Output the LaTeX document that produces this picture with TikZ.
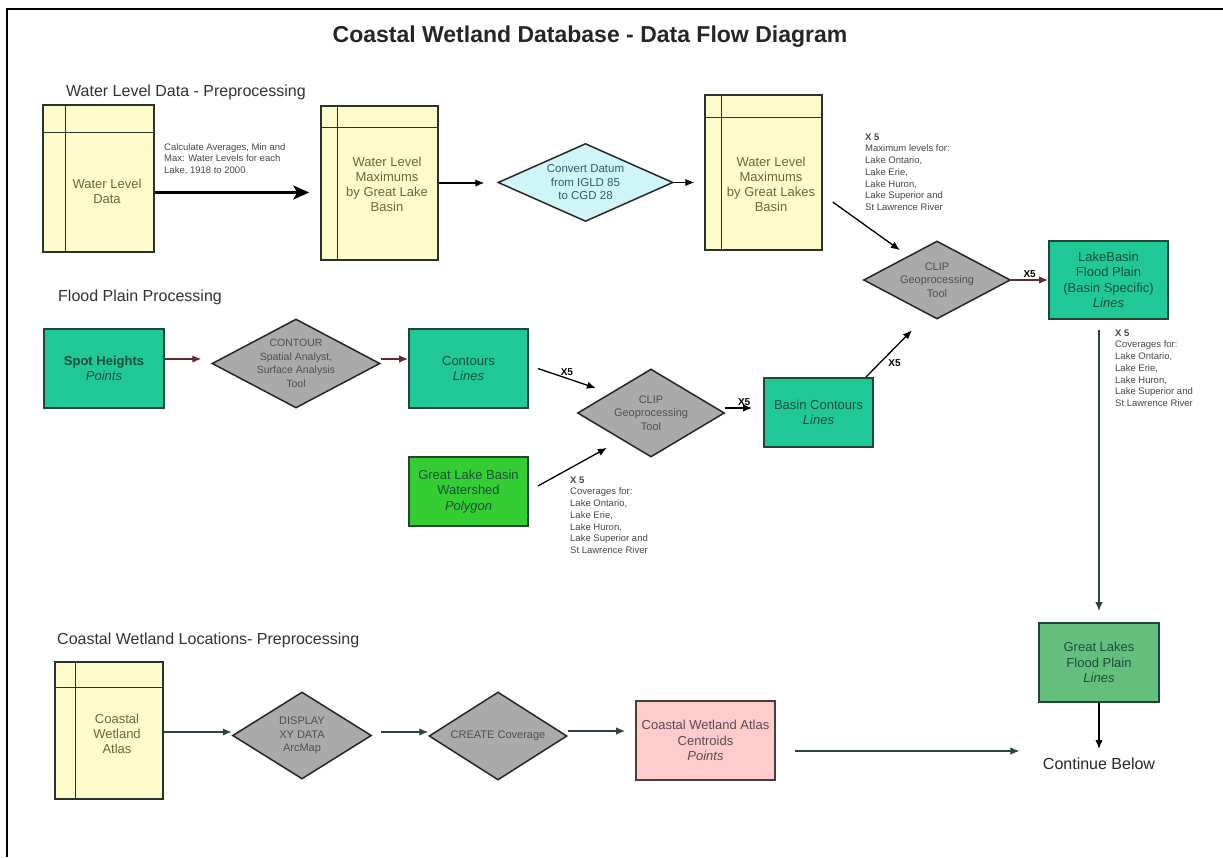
\documentclass[tikz,border=0pt]{standalone}
\usepackage{fontspec}
\setmainfont{Liberation Sans}
\usetikzlibrary{shapes.geometric,arrows.meta}
\definecolor{storefill}{RGB}{255,251,204}
\definecolor{storeline}{RGB}{40,52,40}
\definecolor{storeink}{RGB}{110,104,56}
\definecolor{tealfill}{RGB}{32,200,152}
\definecolor{tealink}{RGB}{25,80,55}
\definecolor{boxline}{RGB}{35,70,50}
\definecolor{grassfill}{RGB}{52,206,52}
\definecolor{plainfill}{RGB}{100,190,126}
\definecolor{pinkfill}{RGB}{255,204,204}
\definecolor{pinkink}{RGB}{92,74,84}
\definecolor{toolfill}{RGB}{170,170,170}
\definecolor{toolink}{RGB}{80,80,80}
\definecolor{datumfill}{RGB}{208,245,249}
\definecolor{datumink}{RGB}{45,95,105}
\definecolor{headink}{RGB}{50,50,50}
\definecolor{annoink}{RGB}{70,70,70}
\definecolor{redline}{RGB}{100,40,45}
\definecolor{greenline}{RGB}{40,70,60}
\tikzset{
  store/.style={draw=storeline, line width=1.5pt, fill=storefill, inner sep=0pt},
  storetext/.style={text=storeink, font=\fontsize{13}{15}\selectfont, align=center},
  databox/.style={draw=boxline, line width=1.8pt, text=tealink, align=center,
    font=\fontsize{13}{15.5}\selectfont, inner sep=2pt},
  tool/.style={diamond, draw=black!85, line width=1.5pt, fill=toolfill, text=toolink,
    font=\fontsize{11}{13.5}\selectfont, align=center, inner sep=0pt},
  arr/.style={-{Latex[length=9pt,width=7.5pt]}, line width=1.3pt},
  redarr/.style={arr, redline},
  greenarr/.style={arr, greenline},
  bigarr/.style={-{Stealth[length=16pt,width=14pt,inset=4pt]}, line width=2.3pt},
  xlabel/.style={font=\fontsize{10}{12}\selectfont\bfseries, inner sep=2pt},
  anno/.style={font=\fontsize{9.5}{11.7}\selectfont, align=left, anchor=north west,
    inner sep=0pt, text=annoink},
  heading/.style={font=\fontsize{16}{19}\selectfont, anchor=west, inner sep=0pt, text=headink},
}
\begin{document}
\begin{tikzpicture}[x=1pt, y=-1pt]
\useasboundingbox (0,0) rectangle (1223,857);
\draw[line width=2.5pt] (7,857) -- (7,9) -- (1223,9);

\node[font=\fontsize{23}{27}\selectfont\bfseries, text=black!85] (title) at (590,37)
  {Coastal Wetland Database - Data Flow Diagram};

% water level data
\node[heading] (headwater) at (66,92) {Water Level Data - Preprocessing};
\node[store, minimum width=111pt, minimum height=147pt,
  label={[storetext, xshift=8.5pt, yshift=-13pt]center:{Water Level\\Data}}] (wld) at (98.5,178.5) {};
\node[store, minimum width=117pt, minimum height=154pt,
  label={[storetext, xshift=7.5pt, yshift=-1pt]center:{Water Level\\Maximums\\by Great Lake\\Basin}}] (wlm) at (379.5,183) {};
\node[tool, fill=datumfill, text=datumink, font=\fontsize{11.5}{13.5}\selectfont,
  minimum width=175pt, minimum height=78pt, aspect=2.24] (datum) at (585.5,182.5)
  {Convert Datum\\from IGLD 85\\to CGD 28};
\node[store, minimum width=117pt, minimum height=155pt,
  label={[storetext, xshift=7.5pt, yshift=-11.5pt]center:{Water Level\\Maximums\\by Great Lakes\\Basin}}] (wlmb) at (763.5,172.5) {};
\node[anno] (calcnote) at (164,143)
  {Calculate Averages, Min and\\Max: Water Levels for each\\Lake, 1918 to 2000};
\node[anno] (maxnote) at (865,133.5)
  {\textbf{X 5}\\Maximum levels for:\\Lake Ontario,\\Lake Erie,\\Lake Huron,\\Lake Superior and\\St Lawrence River};

% flood plain
\node[heading] (headflood) at (58,297) {Flood Plain Processing};
\node[databox, fill=tealfill, minimum width=120pt, minimum height=79pt] (spot) at (104,368.5)
  {\textbf{Spot Heights}\\\textit{Points}};
\node[tool, font=\fontsize{10.5}{13.5}\selectfont, inner sep=-2pt,
  minimum width=168pt, minimum height=89pt, aspect=1.89] (contour) at (296,363.5)
  {CONTOUR\\Spatial Analyst,\\Surface Analysis\\Tool};
\node[databox, fill=tealfill, minimum width=119pt, minimum height=79pt] (contours) at (468.5,368.5)
  {Contours\\\textit{Lines}};
\node[databox, fill=grassfill, minimum width=119pt, minimum height=69pt] (watershed) at (468.5,491.5)
  {Great Lake Basin\\Watershed\\\textit{Polygon}};
\node[tool, minimum width=147pt, minimum height=88pt, aspect=1.67] (clipa) at (651,413)
  {CLIP\\Geoprocessing\\Tool};
\node[databox, fill=tealfill, minimum width=109pt, minimum height=69pt] (basin) at (818.5,412.5)
  {Basin Contours\\\textit{Lines}};
\node[tool, minimum width=147pt, minimum height=78pt, aspect=1.885] (clipb) at (937,280)
  {CLIP\\Geoprocessing\\Tool};
\node[databox, fill=tealfill, minimum width=119pt, minimum height=78pt] (lakebasin) at (1108.5,280)
  {LakeBasin\\Flood Plain\\(Basin Specific)\\\textit{Lines}};
\node[anno] (covernote) at (570,476.5)
  {\textbf{X 5}\\Coverages for:\\Lake Ontario,\\Lake Erie,\\Lake Huron,\\Lake Superior and\\St Lawrence River};
\node[anno] (basinnote) at (1115,329.5)
  {\textbf{X 5}\\Coverages for:\\Lake Ontario,\\Lake Erie,\\Lake Huron,\\Lake Superior and\\St Lawrence River};
\node[databox, fill=plainfill, minimum width=120pt, minimum height=79pt] (glfp) at (1099,662.5)
  {Great Lakes\\Flood Plain\\\textit{Lines}};
\node[font=\fontsize{16}{19}\selectfont, text=black!85] (cont) at (1099,764) {Continue Below};

% coastal wetland locations
\node[heading] (headcoast) at (57,640) {Coastal Wetland Locations- Preprocessing};
\node[store, minimum width=108pt, minimum height=137pt,
  label={[storetext, xshift=8pt, yshift=-3.5pt]center:{Coastal\\Wetland\\Atlas}}] (atlas) at (109,730.5) {};
\node[tool, minimum width=139pt, minimum height=87pt, aspect=1.6] (display) at (302,735.5)
  {DISPLAY\\XY DATA\\ArcMap};
\node[tool, minimum width=138pt, minimum height=88pt, aspect=1.57] (create) at (498,736)
  {CREATE Coverage};
\node[databox, fill=pinkfill, text=pinkink, draw=black!75, minimum width=139pt, minimum height=79pt] (centroids) at (705.5,740.5)
  {Coastal Wetland Atlas\\Centroids\\\textit{Points}};

\foreach \n/\dx/\dy in {wld/23/28, wlm/17/22, wlmb/17/23, atlas/21/26} {
  \draw[storeline, line width=1.5pt] ([xshift=\dx pt]\n.north west) -- ([xshift=\dx pt]\n.south west);
  \draw[storeline, line width=1.5pt] ([yshift=-\dy pt]\n.north west) -- ([yshift=-\dy pt]\n.north east);
}

\draw[bigarr, shorten >=11pt] ([yshift=-14pt]wld.east) -- ([yshift=-14pt]wld.east -| wlm.west);
\draw[arr, shorten >=13pt] (wlm.east) -- (wlm.east -| datum.west);
\draw[arr, shorten >=10pt] (datum.east) -- (datum.east -| wlmb.west);
\draw[arr] ([xshift=10pt,yshift=-29.5pt]wlmb.east) -- ([yshift=10pt]clipb.north west);
\draw[redarr] (clipb.east) -- node[xlabel, above, text=black] {X5} (lakebasin.west);
\draw[greenarr, shorten <=10pt, shorten >=11pt] (lakebasin.south -| glfp.north) -- (glfp.north);
\draw[arr, shorten >=15pt] (glfp.south) -- (cont.center);

\draw[redarr, shorten >=10pt] ([yshift=9.5pt]spot.east) -- ([yshift=9.5pt]spot.east -| contour.west);
\draw[redarr] ([yshift=4.5pt]contour.east) -- ([yshift=4.5pt]contour.east -| contours.west);
\draw[arr] ([xshift=9pt]contours.east) -- node[xlabel, above] {X5} ([xshift=-18pt,yshift=2.5pt]clipa.north west);
\draw[arr] ([xshift=9pt,yshift=5.5pt]watershed.east) -- ([xshift=-7pt,yshift=-12.5pt]clipa.south west);
\draw[arr, shorten >=11pt] ([yshift=5pt]clipa.east) -- node[xlabel, above] {X5} ([yshift=5pt]clipa.east -| basin.west);
\draw[arr] ([xshift=-8pt]basin.north east) -- node[xlabel, right=6pt, pos=0.3] {X5} ([xshift=12pt,yshift=-30.5pt]clipb.south west);

\draw[greenarr] ([yshift=-1.5pt]atlas.east) -- ([yshift=-1.5pt]atlas.east -| display.west);
\draw[greenarr, shorten <=9pt] ([yshift=3.5pt]display.east) -- ([yshift=3.5pt]display.east -| create.west);
\draw[greenarr, shorten >=10pt] ([yshift=5pt]create.east) -- ([yshift=5pt]create.east -| centroids.west);
\draw[greenarr, shorten <=19pt, shorten >=20pt] ([yshift=-10.5pt]centroids.east) -- ([yshift=-10.5pt]centroids.east -| cont.west);
\end{tikzpicture}
\end{document}
